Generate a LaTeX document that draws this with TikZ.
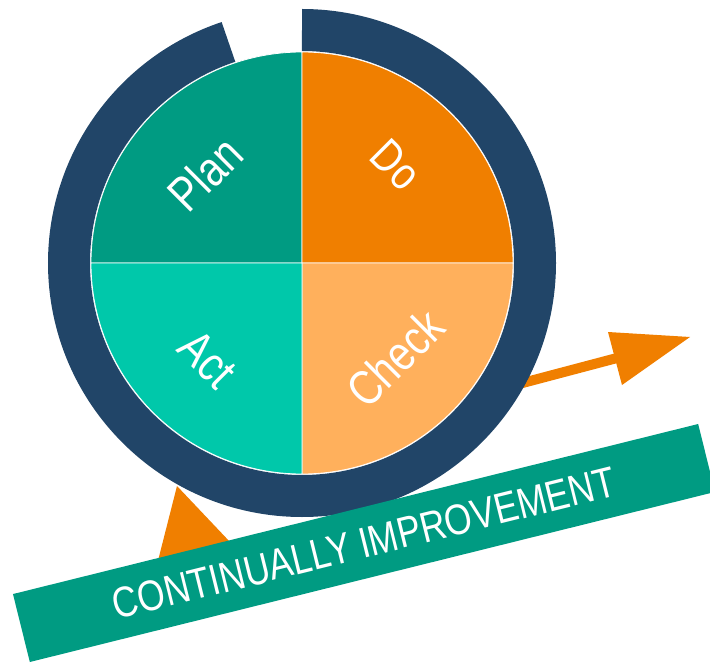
\documentclass[tikz,border=0pt]{standalone}
\usepackage{fontspec}
\setmainfont{Liberation Sans}
\newfontfamily\narrowfont[FakeStretch=0.82]{Liberation Sans}
\definecolor{plancol}{RGB}{0,155,130}
\definecolor{docol}{RGB}{240,127,0}
\definecolor{actcol}{RGB}{0,200,170}
\definecolor{checkcol}{RGB}{255,176,92}
\definecolor{ringcol}{RGB}{33,69,104}
\definecolor{bannercol}{RGB}{0,155,130}
\begin{document}
\begin{tikzpicture}[x=1pt,y=-1pt,
  slice/.style={draw=white,line width=0.8pt},
  lbl/.style={text=white,inner sep=0pt,font=\narrowfont\fontsize{49}{52}\selectfont},
  bannerbox/.style={fill=bannercol,text=white,inner sep=0pt,minimum width=706pt,minimum height=70pt,font=\narrowfont\fontsize{43}{46}\selectfont}]
\useasboundingbox (0,0) rectangle (710,663);
\clip (0,0) rectangle (710,663);
\coordinate (c) at (302,263);
% orange arrow (behind ring)
\coordinate (ashaft) at (496,390);
\coordinate (abase) at (617,358);
\draw[docol,line width=10pt] (ashaft) -- (abase);
\coordinate (h1) at (608,332);
\coordinate (h2) at (690,337);
\coordinate (h3) at (622,385);
\fill[docol] (h1) -- (h2) -- (h3) -- cycle;
% orange triangle (partly under banner)
\coordinate (t1) at (177,486);
\coordinate (t2) at (148,600);
\coordinate (t3) at (266,580);
\fill[docol] (t1) -- (t2) -- (t3) -- cycle;
% pie
\filldraw[slice,fill=plancol] (c) -- ++(180:211) arc[start angle=180,end angle=270,radius=211] -- cycle;
\filldraw[slice,fill=docol] (c) -- ++(270:211) arc[start angle=270,end angle=360,radius=211] -- cycle;
\filldraw[slice,fill=checkcol] (c) -- ++(0:211) arc[start angle=0,end angle=90,radius=211] -- cycle;
\filldraw[slice,fill=actcol] (c) -- ++(90:211) arc[start angle=90,end angle=180,radius=211] -- cycle;
% ring
\draw[ringcol,line width=42pt] (c) ++(-90:233) arc[start angle=-90,end angle=251.6,radius=233];
% labels
\node[lbl,rotate=45] (plan) at (205,174) {Plan};
\node[lbl,rotate=-45,font=\narrowfont\fontsize{46}{50}\selectfont] (do) at (396,165) {Do};
\node[lbl,rotate=-45] (act) at (208,359) {Act};
\node[lbl,rotate=45] (check) at (395,358) {Check};
% banner
\node[bannerbox,rotate=13.94] (banner) at (364,543) {CONTINUALLY IMPROVEMENT};
\end{tikzpicture}
\end{document}
